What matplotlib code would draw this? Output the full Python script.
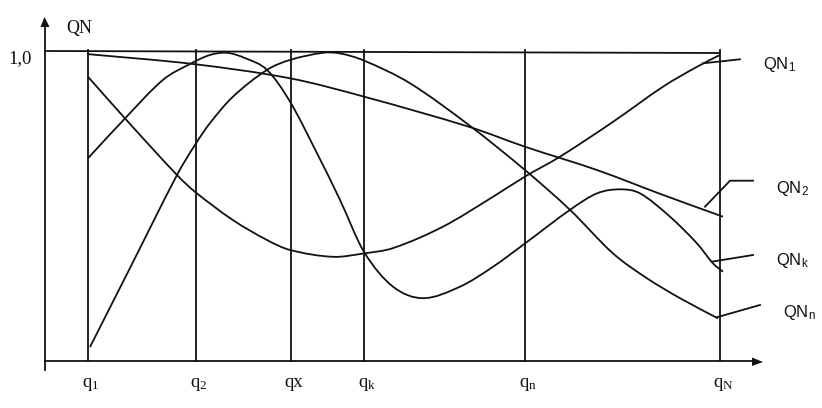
import numpy as np
import matplotlib
matplotlib.use('Agg')
import matplotlib.pyplot as plt
from matplotlib.path import Path
from matplotlib.patches import PathPatch, Polygon

plt.rcParams['mathtext.fontset'] = 'custom'
plt.rcParams['mathtext.rm'] = 'Liberation Serif'
plt.rcParams['mathtext.it'] = 'Liberation Serif:italic'
plt.rcParams['mathtext.sf'] = 'Liberation Sans'

# ---------------- data ----------------
y_label = 'QN'
y_tick_label = '1,0'
q_labels = [r'$\mathrm{q}_{\mathrm{1}}$', r'$\mathrm{q}_{\mathrm{2}}$', 'qx',
            r'$\mathrm{q}_{\mathrm{k}}$', r'$\mathrm{q}_{\mathrm{n}}$', r'$\mathrm{q}_{\mathrm{N}}$']
q_pos = [88, 196, 291, 364, 525, 720]

qn1_x = [88, 125, 177, 195, 233, 267, 290, 333, 364, 393, 443, 493, 525, 560, 613, 663, 697, 720]
qn1_y = [0.914, 0.780, 0.598, 0.544, 0.453, 0.389, 0.357, 0.335, 0.346, 0.363, 0.432, 0.528,
         0.593, 0.657, 0.769, 0.882, 0.946, 0.984]

qn2_x = [87, 193, 290, 364, 470, 525, 597, 663, 723]
qn2_y = [0.987, 0.955, 0.909, 0.850, 0.752, 0.689, 0.614, 0.534, 0.464]

qnk_x = [88, 125, 163, 190, 210, 227, 245, 267, 290, 317, 340, 364, 393, 423, 460, 493, 525,
         570, 597, 620, 640, 670, 697, 713, 723]
qnk_y = [0.652, 0.780, 0.904, 0.955, 0.984, 0.991, 0.974, 0.936, 0.834, 0.668, 0.518, 0.351,
         0.239, 0.202, 0.239, 0.303, 0.378, 0.486, 0.539, 0.552, 0.539, 0.464, 0.378, 0.314, 0.287]

qnn_x = [90, 130, 177, 195, 210, 233, 267, 290, 323, 340, 364, 410, 470, 525, 570, 613, 647, 680, 718]
qnn_y = [0.045, 0.299, 0.598, 0.695, 0.765, 0.850, 0.936, 0.968, 0.991, 0.989, 0.966, 0.893,
         0.756, 0.614, 0.486, 0.346, 0.266, 0.202, 0.137]

series_labels = [r'$\mathsf{QN}_{\mathsf{1}}$', r'$\mathsf{QN}_{\mathsf{2}}$',
                 r'$\mathsf{QN}_{\mathsf{k}}$', r'$\mathsf{QN}_{\mathsf{n}}$']

# ---------------- layout helpers ----------------
X0, Y0PX, Y1PX = 45, 361, 50


def v(py):
    """pixel row -> value units"""
    return (Y0PX - py) / (Y0PX - Y1PX)


def smooth_path(xs, ys):
    xs = np.asarray(xs, float)
    ys = np.asarray(ys, float)
    n = len(xs)
    m = np.empty(n)
    m[0] = (ys[1] - ys[0]) / (xs[1] - xs[0])
    m[-1] = (ys[-1] - ys[-2]) / (xs[-1] - xs[-2])
    for i in range(1, n - 1):
        m[i] = (ys[i + 1] - ys[i - 1]) / (xs[i + 1] - xs[i - 1])
    verts = [(xs[0], ys[0])]
    codes = [Path.MOVETO]
    for i in range(n - 1):
        dx = xs[i + 1] - xs[i]
        verts += [(xs[i] + dx / 3, ys[i] + m[i] * dx / 3),
                  (xs[i + 1] - dx / 3, ys[i + 1] - m[i + 1] * dx / 3),
                  (xs[i + 1], ys[i + 1])]
        codes += [Path.CURVE4] * 3
    return Path(verts, codes)


fig = plt.figure(figsize=(8.22, 4.08), dpi=100)
ax = fig.add_axes([0, 0, 1, 1])
ax.set_xlim(0, 822)
ax.set_ylim(v(408), v(0))
ax.axis('off')

LW = 1.3
K = '#111111'

# axes
ax.plot([X0, X0], [v(370), v(26)], color=K, lw=LW)
ax.plot([X0, 754], [0, 0], color=K, lw=LW)
ax.add_patch(Polygon([(X0 - 4.5, v(27)), (X0 + 4.5, v(27)), (X0 - 0.5, v(17))], closed=True,
                     color=K, lw=0))
ax.add_patch(Polygon([(752, v(357.5)), (752, v(366)), (763, v(362))], closed=True, color=K, lw=0))

# top line at 1.0
ax.plot([X0, q_pos[-1]], [v(51), v(53)], color=K, lw=LW)

# vertical lines
for xq in q_pos:
    ax.plot([xq, xq], [0, 1.0], color=K, lw=LW)

# curves
for xs, ys in [(qn1_x, qn1_y), (qn2_x, qn2_y), (qnk_x, qnk_y), (qnn_x, qnn_y)]:
    ax.add_patch(PathPatch(smooth_path(xs, ys), fill=False, edgecolor=K, lw=LW))

# leader lines to labels
ax.plot([703, 740], [v(63.3), v(59.3)], color=K, lw=LW)
ax.plot([705, 730, 753], [v(206.7), v(180.7), v(180.7)], color=K, lw=LW)
ax.plot([711.7, 753], [v(261.7), v(255)], color=K, lw=LW)
ax.plot([716.7, 760], [v(317.3), v(305)], color=K, lw=LW)

# series labels
lab_pos = [(763, 69.5), (776, 193), (776, 265), (783, 317)]
for (lx, ly), lab in zip(lab_pos, series_labels):
    ax.text(lx, v(ly), lab, fontsize=12, ha='left', va='baseline', color=K)

# axis texts
ax.text(8, v(63), y_tick_label, family='Liberation Serif', fontsize=13.5, ha='left', va='baseline', color=K)
ax.text(66, v(32.5), y_label, family='Liberation Serif', fontsize=13, ha='left', va='baseline', color=K)
for xq, lab in zip(q_pos, q_labels):
    ax.text(xq + 3, v(387), lab, family='Liberation Serif', fontsize=13.5, ha='center', va='baseline',
            color=K)

fig.savefig('out.png', dpi=100)
